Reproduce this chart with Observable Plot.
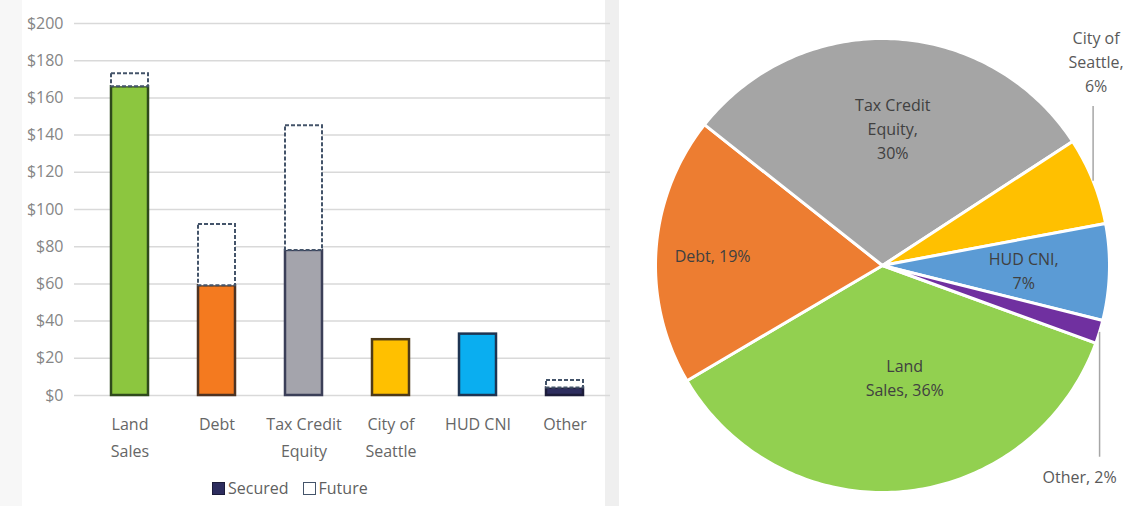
<!DOCTYPE html>
<html>
<head>
<meta charset="utf-8">
<script src="https://cdn.jsdelivr.net/npm/d3@7"></script>
<script src="https://cdn.jsdelivr.net/npm/@observablehq/plot@0.6"></script>
<style>
  html, body { margin: 0; padding: 0; background: #fff; }
  #root { position: relative; width: 1143px; height: 506px; overflow: hidden; font-family: "Open Sans", sans-serif; background: #fff; }
  .strip { position: absolute; }
  #bars { position: absolute; left: 0; top: 0; }
  #pie { position: absolute; left: 620px; top: 0; }
  #legend { position: absolute; top: 477px; left: 212px; display: flex; align-items: center; font-size: 16px; color: #5f5f5f; }
  .sw { width: 13px; height: 13px; display: inline-block; margin-right: 3px; box-sizing: border-box; }
</style>
</head>
<body>
<div id="root">
  <div class="strip" style="left:0;top:0;width:22px;height:506px;background:#f7f7f7"></div>
  <div class="strip" style="left:605px;top:0;width:14px;height:506px;background:#efefef"></div>
  <div id="bars"></div>
  <div id="pie"></div>
  <div id="legend">
    <span class="sw" style="background:#2d2d5e;border:1.5px solid #1c1c3a"></span><span>Secured</span>
    <span class="sw" style="background:#fff;border:1.5px solid #44546a;margin-left:14px"></span><span>Future</span>
  </div>
</div>
<script>
// ---------- data ----------
const categories = ["Land Sales", "Debt", "Tax Credit Equity", "City of Seattle", "HUD CNI", "Other"];
const axisLabels = ["Land\nSales", "Debt", "Tax Credit\nEquity", "City of\nSeattle", "HUD CNI", "Other"];
const secured = [166, 59, 78, 30, 33, 4];
const future = [7, 33, 67, 0, 0, 4];
const yTicks = [0, 20, 40, 60, 80, 100, 120, 140, 160, 180, 200];
const pieLabels = ["Land\nSales, 36%", "Debt, 19%", "Tax Credit\nEquity,\n30%", "City of\nSeattle,\n6%", "HUD CNI,\n7%", "Other, 2%"];

// ---------- styles ----------
const barFill = {"Land Sales": "#8cc63f", "Debt": "#f47a1f", "Tax Credit Equity": "#a4a4ac", "City of Seattle": "#ffc000", "HUD CNI": "#0aaef0", "Other": "#2d2d5e"};
const barStroke = {"Land Sales": "#2f4a1c", "Debt": "#4e3322", "Tax Credit Equity": "#3b3f58", "City of Seattle": "#4e3a18", "HUD CNI": "#1e3452", "Other": "#1c1c3a"};
const pieFill = {"Land Sales": "#92d050", "Debt": "#ed7d31", "Tax Credit Equity": "#a5a5a5", "City of Seattle": "#ffc000", "HUD CNI": "#5b9bd5", "Other": "#7030a0"};
const labelPlace = {
  "Land Sales": {mode: "in", r: 0.49, dx: 12},
  "Debt": {mode: "in", r: 0.75, dx: 0},
  "Tax Credit Equity": {mode: "in", r: 0.61, dx: 4},
  "City of Seattle": {mode: "out", dy: 0.53, lead: 0.33, dx: 3},
  "HUD CNI": {mode: "in", r: 0.64, dx: -4},
  "Other": {mode: "out", dy: -0.63, lead: -0.55, dx: -20}
};
const firstSliceAngle = 110 * Math.PI / 180;

// ---------- bar chart ----------
const rows = categories.map((c, i) => ({category: c, label: axisLabels[i], secured: secured[i], future: future[i], total: secured[i] + future[i]}));
const labelOf = Object.fromEntries(rows.map(r => [r.category, r.label]));

const bars = Plot.plot({
  width: 612, height: 470,
  marginLeft: 84, marginRight: 2, marginTop: 23, marginBottom: 75,
  style: {fontFamily: "'Open Sans', sans-serif", background: "transparent"},
  color: {type: "identity"},
  x: {domain: categories, paddingInner: 0.57, paddingOuter: 0.285},
  y: {domain: [0, 200]},
  marks: [
    Plot.ruleY(yTicks, {stroke: "#d9d9d9", strokeWidth: 1.5, insetLeft: -10}),
    Plot.axisY(yTicks, {tickSize: 0, tickPadding: 21, fontSize: 16, fill: "#858585", tickFormat: d => "$" + d, label: null}),
    Plot.axisX({tickSize: 0, tickPadding: 16, fontSize: 16, lineHeight: 1.65, fill: "#666", tickFormat: d => labelOf[d], label: null}),
    Plot.barY(rows, {x: "category", y1: 0, y2: "secured", fill: d => barFill[d.category], stroke: d => barStroke[d.category], strokeWidth: 2.5}),
    Plot.barY(rows.filter(d => d.future > 0), {x: "category", y1: "secured", y2: "total", fill: "white", stroke: "#44546a", strokeWidth: 2, strokeDasharray: "4,2"})
  ]
});
document.getElementById("bars").appendChild(bars);

// ---------- pie chart ----------
const totals = rows.map(r => r.total);
const sumTotal = d3.sum(totals);
let acc = firstSliceAngle;
const slices = rows.map((r, i) => {
  const a0 = acc, a1 = acc + totals[i] / sumTotal * 2 * Math.PI;
  acc = a1;
  return {category: r.category, a0, a1, mid: (a0 + a1) / 2, label: pieLabels[i]};
});
const sliceMarks = slices.map(s => {
  const n = Math.max(2, Math.ceil((s.a1 - s.a0) / (Math.PI / 180)) + 1);
  const pts = [{x: 0, y: 0}];
  for (let k = 0; k < n; k++) {
    const a = s.a0 + (s.a1 - s.a0) * k / (n - 1);
    pts.push({x: Math.sin(a), y: Math.cos(a)});
  }
  return Plot.line(pts, {x: "x", y: "y", curve: "linear-closed", fill: pieFill[s.category], stroke: "white", strokeWidth: 3, strokeLinejoin: "round"});
});
const labelData = slices.map(s => {
  const p = labelPlace[s.category];
  if (p.mode === "in") return {text: s.label, x: Math.sin(s.mid) * p.r, y: Math.cos(s.mid) * p.r, dx: p.dx, out: false};
  const ex = Math.sin(s.mid), ey = Math.cos(s.mid);
  return {text: s.label, x: ex, y: ey + p.dy, dx: p.dx, out: true, ex, ey, ly: ey + p.lead};
});
const leaders = labelData.filter(d => d.out);

const pie = Plot.plot({
  width: 523, height: 506,
  marginLeft: 35, marginRight: 34, marginTop: 38, marginBottom: 14,
  style: {fontFamily: "'Open Sans', sans-serif", background: "transparent"},
  x: {domain: [-1, 1], axis: null},
  y: {domain: [-1, 1], axis: null},
  marks: [
    ...sliceMarks,
    Plot.link(leaders, {x1: "ex", y1: "ey", x2: "ex", y2: "ly", stroke: "#a6a6a6", strokeWidth: 1.5}),
    ...labelData.map(d => Plot.text([d], {x: "x", y: "y", text: "text", dx: d.dx, fill: d.out ? "#595959" : "#404040", fontSize: 16, lineHeight: 1.5}))
  ]
});
document.getElementById("pie").appendChild(pie);
</script>
</body>
</html>
